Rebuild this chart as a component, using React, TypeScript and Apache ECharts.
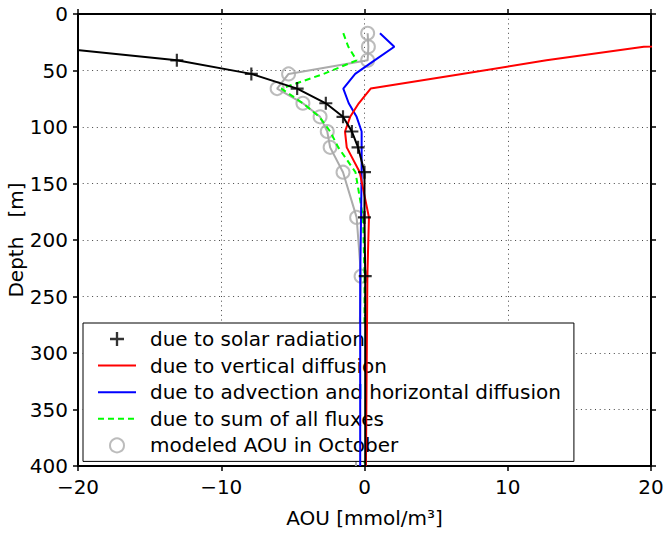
import React, { useEffect, useRef } from 'react';
import * as echarts from 'echarts';

const FONT = 'DejaVu Sans';

// depth levels [m]
const depths = [17, 29, 41, 53, 66, 79, 91, 104, 118, 140, 180, 232, 400];

// AOU contributions [mmol/m3] at each depth
const solarDepths = [29, 41, 53, 66, 79, 91, 104, 118, 140, 180, 232, 400];
const solarAOU = [-22.2, -13.1, -7.9, -4.7, -2.7, -1.5, -0.88, -0.45, 0.0, 0.0, 0.05, 0.05];
const verticalAOU = [40, 19.5, 12.7, 6.8, 0.43, -0.4, -1.0, -1.36, -1.24, -0.33, 0.31, 0.2, 0.1];
const advectionAOU = [1.08, 2.08, 0.7, -0.65, -1.48, -1.1, -0.55, -0.2, -0.2, -0.2, -0.24, -0.3, -0.3];
const sumAOU = [-1.48, -1.13, -0.55, -2.85, -5.8, -4.3, -3.15, -2.4, -1.83, -0.63, -0.1, 0, 0];
const modeledAOU = [0.22, 0.27, 0.22, -5.3, -6.1, -4.3, -3.1, -2.6, -2.4, -1.5, -0.55, -0.24, -0.6];

const xTicks = { min: -20, max: 20, interval: 10 };
const yTicks = { min: 0, max: 400, interval: 50 };

const legendNames = [
  'due to solar radiation',
  'due to vertical diffusion',
  'due to advection and horizontal diffusion',
  'due to sum of all fluxes',
  'modeled AOU in October',
];

const zip = (xs: number[], ys: number[]) => xs.map((x, i) => [x, ys[i]]);

const PLUS = 'path://M5,0H7V5H12V7H7V12H5V7H0V5H5Z';
const GRAY = '#ababab';

export default function App() {
  const ref = useRef<HTMLDivElement>(null);
  useEffect(() => {
    document.body.style.margin = '0';
    const chart = echarts.init(ref.current!, null, { renderer: 'svg' });
    const minus = (v: number) => (v < 0 ? '\u2212' + Math.abs(v) : String(v));
    const axisLine = { show: true, onZero: false, lineStyle: { color: '#000', width: 2 } };
    const tick = { show: true, inside: false, length: 5, lineStyle: { color: '#000', width: 1.5 } };
    const split = { show: true, lineStyle: { color: '#444', width: 1, type: [1, 3.7] } };
    const labelStyle = { color: '#000', fontFamily: FONT, fontSize: 20 };

    const solarMarkers = zip(solarAOU, solarDepths).slice(0, -1);
    const modeledMarkers = zip(modeledAOU, depths).slice(0, -1);
    const noSymbol = { itemStyle: { opacity: 0 } };

    chart.setOption({
      animation: false,
      backgroundColor: '#fff',
      textStyle: { fontFamily: FONT },
      grid: { left: 78, right: 13, top: 14, bottom: 68, containLabel: false, outerBoundsMode: 'none' },
      xAxis: [
        {
          type: 'value', ...xTicks, position: 'bottom',
          axisLine, axisTick: tick, splitLine: split,
          axisLabel: { ...labelStyle, margin: 11, formatter: minus },
          name: 'AOU [mmol/m\u00b3]', nameLocation: 'middle', nameGap: 42,
          nameTextStyle: { color: '#000', fontFamily: FONT, fontSize: 20 },
        },
        {
          type: 'value', ...xTicks, position: 'top',
          axisLine, axisTick: tick, splitLine: { show: false }, axisLabel: { show: false },
        },
      ],
      yAxis: [
        {
          type: 'value', ...yTicks, inverse: true, position: 'left',
          axisLine, axisTick: tick, splitLine: split,
          axisLabel: { ...labelStyle, margin: 10 },
          name: 'Depth   [m]', nameLocation: 'middle', nameGap: 52, nameRotate: 90,
          nameMoveOverlap: false,
          nameTextStyle: { color: '#000', fontFamily: FONT, fontSize: 20 },
        },
        {
          type: 'value', ...yTicks, inverse: true, position: 'right',
          axisLine, axisTick: tick, splitLine: { show: false }, axisLabel: { show: false },
        },
      ],
      legend: {
        orient: 'vertical', left: 83, top: 323,
        backgroundColor: '#fff', borderColor: '#000', borderWidth: 1,
        padding: [3, 13, 3, 14], itemGap: 0.6, itemWidth: 38, itemHeight: 14,
        textStyle: { color: '#000', fontFamily: FONT, fontSize: 20, lineHeight: 26, padding: [0, 0, 0, 9] },
        data: [
          { name: legendNames[0] },
          { name: legendNames[1], ...noSymbol },
          { name: legendNames[2], ...noSymbol },
          { name: legendNames[3], ...noSymbol },
          { name: legendNames[4], icon: 'circle', itemStyle: { color: 'transparent', borderColor: GRAY, borderWidth: 2 } },
        ],
      },
      series: [
        {
          type: 'line', name: 'modeled-line', data: zip(modeledAOU, depths), symbol: 'none',
          lineStyle: { color: GRAY, width: 2 }, z: 1, silent: true,
        },
        {
          type: 'scatter', name: legendNames[4], data: modeledMarkers, symbol: 'circle', symbolSize: 13,
          itemStyle: { color: 'transparent', borderColor: GRAY, borderWidth: 2 }, z: 2,
        },
        {
          type: 'line', name: legendNames[3], data: zip(sumAOU, depths), symbol: 'none',
          lineStyle: { color: '#00ff00', width: 2, type: [6, 4] }, itemStyle: { color: '#00ff00' }, z: 3,
        },
        {
          type: 'line', name: legendNames[2], data: zip(advectionAOU, depths), symbol: 'none',
          lineStyle: { color: '#0000ff', width: 2 }, itemStyle: { color: '#0000ff' }, z: 4,
        },
        {
          type: 'line', name: legendNames[1], data: zip(verticalAOU, depths), symbol: 'none',
          lineStyle: { color: '#ff0000', width: 2 }, itemStyle: { color: '#ff0000' }, z: 5,
        },
        {
          type: 'line', name: 'solar-line', data: zip(solarAOU, solarDepths), symbol: 'none',
          lineStyle: { color: '#000', width: 2 }, z: 6, silent: true,
        },
        {
          type: 'scatter', name: legendNames[0], data: solarMarkers, symbol: PLUS, symbolSize: 13,
          itemStyle: { color: '#000' }, z: 7,
        },
      ],
    });
    return () => chart.dispose();
  }, []);
  return <div ref={ref} style={{ width: 664, height: 534 }} />;
}
